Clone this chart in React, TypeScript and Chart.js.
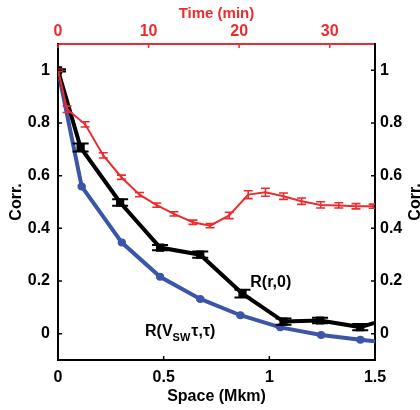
import { useEffect, useRef } from 'react';
import { Chart, registerables } from 'chart.js';

Chart.register(...registerables);

// R(r,0) — black, space axis (Mkm)
const spaceR = [0, 0.107, 0.294, 0.483, 0.673, 0.873, 1.067, 1.24, 1.43, 1.62];
const corrR = [1, 0.707, 0.498, 0.327, 0.3, 0.152, 0.046, 0.05, 0.025, 0.07];
const errR = [0.004, 0.015, 0.012, 0.01, 0.012, 0.015, 0.012, 0.01, 0.012, 0.012];

// R(Vsw tau, tau) — blue, space axis (Mkm)
const spaceV = [0, 0.112, 0.302, 0.483, 0.673, 0.863, 1.052, 1.245, 1.431, 1.62];
const corrV = [1, 0.559, 0.346, 0.216, 0.132, 0.07, 0.024, -0.005, -0.023, -0.04];
const errV = [0.004, 0.004, 0.004, 0.004, 0.004, 0.004, 0.004, 0.004, 0.004, 0.004];

// Time correlation — red, time axis (min)
const timeT = [0, 1, 3, 5, 7, 9, 10.9, 12.8, 14.9, 16.8, 18.9, 21, 22.9, 24.9, 26.9, 29, 31, 32.9, 34.8];
const corrT = [1, 0.852, 0.795, 0.677, 0.594, 0.528, 0.488, 0.455, 0.423, 0.41, 0.449, 0.528, 0.537, 0.522, 0.503, 0.489, 0.487, 0.484, 0.484];
const errT = [0.004, 0.012, 0.01, 0.01, 0.008, 0.008, 0.008, 0.008, 0.008, 0.008, 0.012, 0.015, 0.015, 0.012, 0.012, 0.012, 0.01, 0.01, 0.008];

const corrTicks = [0, 0.2, 0.4, 0.6, 0.8, 1];
const spaceTicks = [0, 0.5, 1, 1.5];
const timeTicks = [0, 10, 20, 30];

const FONT = "'Liberation Sans', Arial, Helvetica, sans-serif";
const BLUE = '#3c55a8';
const RED = '#ec2b2e';

const fmt = (v: any) => String(Math.round(Number(v) * 100) / 100);

export default function App() {
  const ref = useRef<HTMLCanvasElement>(null);

  useEffect(() => {
    document.body.style.margin = '0';
    if (!ref.current) return;

    const errorBars = {
      id: 'errorBars',
      afterDatasetDraw(chart: any, args: any) {
        const ds = chart.data.datasets[args.index];
        if (!ds.err) return;
        const { ctx, chartArea: a } = chart;
        const xs = chart.scales[ds.xAxisID];
        const ys = chart.scales[ds.yAxisID];
        ctx.save();
        ctx.beginPath();
        ctx.rect(a.left, a.top, a.right - a.left, a.bottom - a.top);
        ctx.clip();
        ctx.strokeStyle = ds.errColor;
        ctx.lineWidth = ds.errWidth;
        ds.data.forEach((p: any, i: number) => {
          const x = xs.getPixelForValue(p.x);
          const y1 = ys.getPixelForValue(p.y - ds.err[i]);
          const y2 = ys.getPixelForValue(p.y + ds.err[i]);
          const c = ds.capHalf;
          ctx.beginPath();
          ctx.moveTo(x, y1);
          ctx.lineTo(x, y2);
          ctx.moveTo(x - c, y1);
          ctx.lineTo(x + c, y1);
          ctx.moveTo(x - c, y2);
          ctx.lineTo(x + c, y2);
          ctx.stroke();
        });
        ctx.restore();
      },
    };

    const decorations = {
      id: 'decorations',
      afterDraw(chart: any) {
        const { ctx, chartArea: a, scales } = chart;
        const L = 4;
        ctx.save();
        ctx.lineWidth = 1.5;
        // inward ticks
        ctx.strokeStyle = '#000';
        corrTicks.forEach((v) => {
          const y = scales.y.getPixelForValue(v);
          ctx.beginPath();
          ctx.moveTo(a.left, y);
          ctx.lineTo(a.left + L, y);
          ctx.moveTo(a.right, y);
          ctx.lineTo(a.right - L, y);
          ctx.stroke();
        });
        spaceTicks.forEach((v) => {
          const x = scales.x.getPixelForValue(v);
          ctx.beginPath();
          ctx.moveTo(x, a.bottom);
          ctx.lineTo(x, a.bottom - L);
          ctx.stroke();
        });
        ctx.strokeStyle = RED;
        timeTicks.forEach((v) => {
          const x = scales.x2.getPixelForValue(v);
          ctx.beginPath();
          ctx.moveTo(x, a.top);
          ctx.lineTo(x, a.top + L);
          ctx.stroke();
        });

        // annotations
        ctx.fillStyle = '#000';
        ctx.textBaseline = 'middle';
        ctx.textAlign = 'left';
        ctx.font = `bold 16px ${FONT}`;
        let x = scales.x.getPixelForValue(0.91);
        let y = scales.y.getPixelForValue(0.194);
        ctx.fillText('R(r,0)', x, y);

        x = scales.x.getPixelForValue(0.412);
        y = scales.y.getPixelForValue(0.006);
        ctx.fillText('R(V', x, y);
        x += ctx.measureText('R(V').width;
        ctx.font = `bold 11px ${FONT}`;
        ctx.fillText('SW', x, y + 6);
        x += ctx.measureText('SW').width + 1;
        ctx.font = `bold 16px ${FONT}`;
        ctx.fillText('τ,τ)', x, y);

        // right axis title
        ctx.save();
        ctx.translate(416, (a.top + a.bottom) / 2);
        ctx.rotate(-Math.PI / 2);
        ctx.textAlign = 'center';
        ctx.textBaseline = 'middle';
        ctx.font = `bold 16px ${FONT}`;
        ctx.fillText('Corr.', 0, 0);
        ctx.restore();
        ctx.restore();
      },
    };

    const tickFont = { family: FONT, size: 16, weight: 'bold' as const };
    const titleFont = { family: FONT, size: 16, weight: 'bold' as const };

    const chart = new Chart(ref.current, {
      type: 'line',
      data: {
        datasets: [
          {
            label: 'time',
            data: timeT.map((t, i) => ({ x: t, y: corrT[i] })),
            xAxisID: 'x2',
            yAxisID: 'y',
            borderColor: RED,
            borderWidth: 2,
            pointRadius: 0,
            tension: 0,
            order: 1,
            err: errT,
            errColor: RED,
            errWidth: 1.6,
            capHalf: 4.5,
          } as any,
          {
            label: 'R(r,0)',
            data: spaceR.map((s, i) => ({ x: s, y: corrR[i] })),
            xAxisID: 'x',
            yAxisID: 'y',
            borderColor: '#000',
            backgroundColor: '#000',
            borderWidth: 4,
            pointRadius: 3,
            pointStyle: 'rect',
            tension: 0,
            order: 2,
            err: errR,
            errColor: '#000',
            errWidth: 2,
            capHalf: 8,
          } as any,
          {
            label: 'R(Vsw)',
            data: spaceV.map((s, i) => ({ x: s, y: corrV[i] })),
            xAxisID: 'x',
            yAxisID: 'y',
            borderColor: BLUE,
            backgroundColor: BLUE,
            borderWidth: 4,
            pointRadius: 4,
            pointBorderWidth: 0,
            pointStyle: 'circle',
            tension: 0,
            order: 3,
            err: errV,
            errColor: BLUE,
            errWidth: 1.5,
            capHalf: 4,
          } as any,
        ],
      },
      options: {
        responsive: false,
        animation: false,
        layout: { padding: 0 },
        plugins: { legend: { display: false }, tooltip: { enabled: false } },
        scales: {
          x: {
            type: 'linear',
            position: 'bottom',
            min: 0,
            max: 1.5,
            afterBuildTicks: (s: any) => {
              s.ticks = spaceTicks.map((v) => ({ value: v }));
            },
            afterFit: (s: any) => {
              s.height = 50;
            },
            grid: { display: false, drawTicks: false },
            border: { display: true, color: '#000', width: 2 },
            ticks: { color: '#000', font: tickFont, padding: 8, autoSkip: false, maxRotation: 0, callback: fmt },
            title: { display: true, text: 'Space (Mkm)', color: '#000', font: titleFont, padding: { top: 0, bottom: 4 } },
          },
          x2: {
            type: 'linear',
            position: 'top',
            min: 0,
            max: 35,
            afterBuildTicks: (s: any) => {
              s.ticks = timeTicks.map((v) => ({ value: v }));
            },
            afterFit: (s: any) => {
              s.height = 44;
            },
            grid: { display: false, drawTicks: false },
            border: { display: true, color: RED, width: 2 },
            ticks: { color: RED, font: tickFont, padding: 3, autoSkip: false, maxRotation: 0, callback: fmt },
            title: { display: true, text: 'Time (min)', color: RED, font: { family: FONT, size: 15, weight: 'bold' }, padding: { top: 5, bottom: 0 } },
          },
          y: {
            type: 'linear',
            position: 'left',
            min: -0.1,
            max: 1.1,
            afterBuildTicks: (s: any) => {
              s.ticks = corrTicks.map((v) => ({ value: v }));
            },
            afterFit: (s: any) => {
              s.width = 58;
            },
            grid: { display: false, drawTicks: false },
            border: { display: true, color: '#000', width: 2 },
            ticks: { color: '#000', font: tickFont, padding: 8, autoSkip: false, callback: fmt },
            title: { display: true, text: 'Corr.', color: '#000', font: titleFont, padding: { top: 7, bottom: 0 } },
          },
          y2: {
            type: 'linear',
            position: 'right',
            min: -0.1,
            max: 1.1,
            afterBuildTicks: (s: any) => {
              s.ticks = corrTicks.map((v) => ({ value: v }));
            },
            afterFit: (s: any) => {
              s.width = 45;
            },
            grid: { display: false, drawTicks: false },
            border: { display: true, color: '#000', width: 2 },
            ticks: { color: '#000', font: tickFont, padding: 5, autoSkip: false, callback: fmt },
          },
        },
      } as any,
      plugins: [errorBars, decorations],
    });

    return () => chart.destroy();
  }, []);

  return (
    <div style={{ position: 'absolute', left: 0, top: 0, width: 420, height: 410 }}>
      <canvas ref={ref} width={420} height={410} />
    </div>
  );
}
